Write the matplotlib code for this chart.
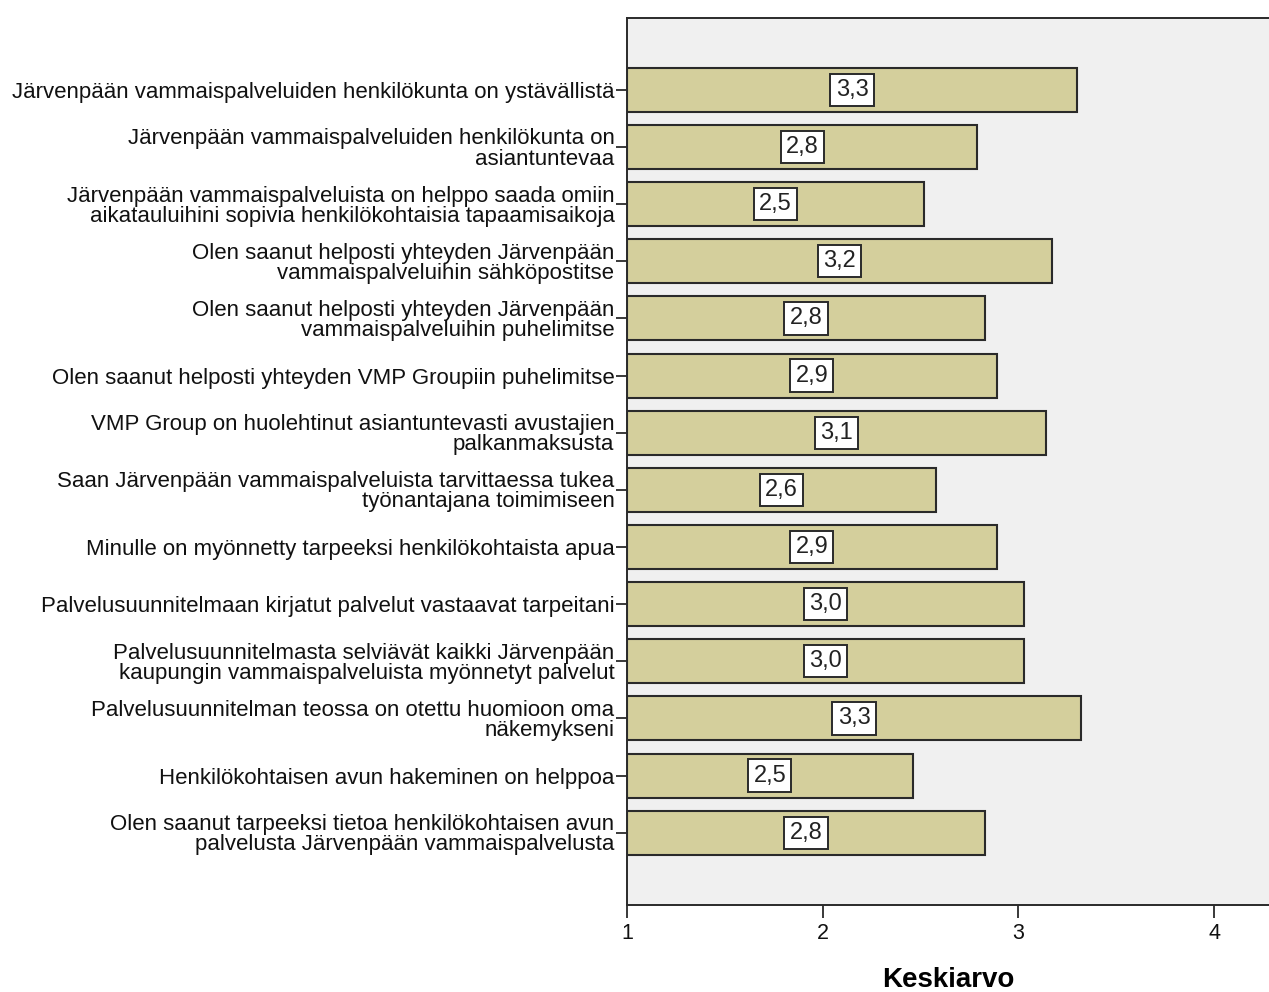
import matplotlib.pyplot as plt

statements = [
    "Järvenpään vammaispalveluiden henkilökunta on ystävällistä",
    "Järvenpään vammaispalveluiden henkilökunta on\nasiantuntevaa",
    "Järvenpään vammaispalveluista on helppo saada omiin\naikatauluihini sopivia henkilökohtaisia tapaamisaikoja",
    "Olen saanut helposti yhteyden Järvenpään\nvammaispalveluihin sähköpostitse",
    "Olen saanut helposti yhteyden Järvenpään\nvammaispalveluihin puhelimitse",
    "Olen saanut helposti yhteyden VMP Groupiin puhelimitse",
    "VMP Group on huolehtinut asiantuntevasti avustajien\npalkanmaksusta",
    "Saan Järvenpään vammaispalveluista tarvittaessa tukea\ntyönantajana toimimiseen",
    "Minulle on myönnetty tarpeeksi henkilökohtaista apua",
    "Palvelusuunnitelmaan kirjatut palvelut vastaavat tarpeitani",
    "Palvelusuunnitelmasta selviävät kaikki Järvenpään\nkaupungin vammaispalveluista myönnetyt palvelut",
    "Palvelusuunnitelman teossa on otettu huomioon oma\nnäkemykseni",
    "Henkilökohtaisen avun hakeminen on helppoa",
    "Olen saanut tarpeeksi tietoa henkilökohtaisen avun\npalvelusta Järvenpään vammaispalvelusta",
]
means = [3.30, 2.79, 2.52, 3.17, 2.83, 2.89, 3.14, 2.58, 2.89, 3.03, 3.03, 3.32, 2.46, 2.83]
xticks = [1, 2, 3, 4]

plt.rcParams['font.family'] = ['Liberation Sans', 'DejaVu Sans']

fig = plt.figure(figsize=(12.69, 9.92), dpi=100)
ax = fig.add_axes([0.494, 0.088, 0.506, 0.894])
ax.set_facecolor('#f0f0f0')

base = xticks[0]
ypos = list(range(len(statements)))
ax.barh(ypos, [m - base for m in means], left=base, height=0.77,
        color='#d4cf9c', edgecolor='#2a2a2a', linewidth=1.5)

# value boxes sit in the middle of each bar
for y, m in zip(ypos, means):
    ax.text((base + m) / 2, y, f"{m:.1f}".replace('.', ','), ha='center', va='center',
            fontsize=17, color='#222222',
            bbox=dict(boxstyle='square,pad=0.22', fc='white', ec='#2a2a2a', lw=1.4))

ax.set_xlim(base, 4.28)
ax.set_ylim(len(statements) - 1 + 1.26, -1.26)
ax.set_xticks(xticks)
ax.set_xticklabels([str(t) for t in xticks], fontsize=15.5, color='#111111')
ax.set_yticks(ypos)
ax.set_yticklabels(statements, fontsize=16, linespacing=0.94, color='#111111')
ax.tick_params(axis='y', length=8, width=1.3, color='#2a2a2a', pad=1)
ax.tick_params(axis='x', length=9, width=1.3, color='#2a2a2a', pad=4)

for side in ['left', 'bottom', 'top']:
    ax.spines[side].set_linewidth(1.4)
    ax.spines[side].set_color('#2a2a2a')
ax.spines['right'].set_visible(False)

ax.set_xlabel('Keskiarvo', fontsize=20, fontweight='bold', labelpad=17)

fig.savefig('out.png', dpi=100)
